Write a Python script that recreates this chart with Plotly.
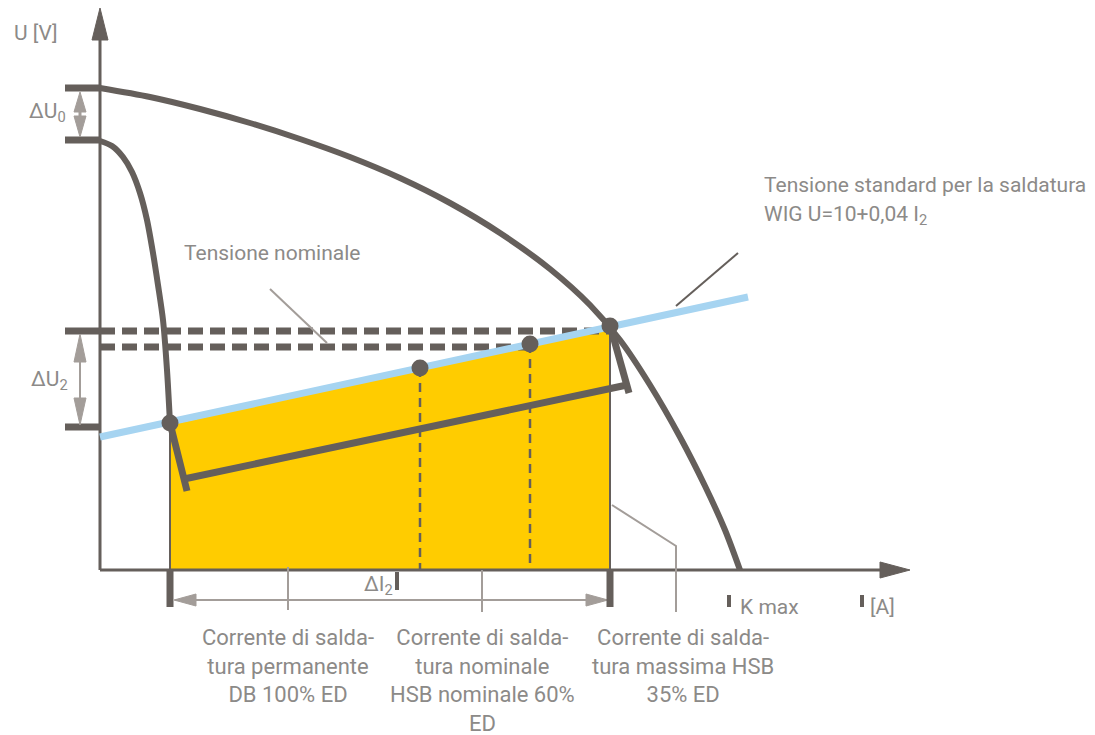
import plotly.graph_objects as go

# diagram coordinates (pixel-like units, y grows downward)
W, H = 1095, 735
PAGE_PAD = 8  # default body margin of the html page

DARK = "#655f5b"
GREY_TXT = "#8c8a88"
GREY_LINE = "#a39d99"
BLUE = "#a6d4f1"
YELLOW = "#ffcc00"
FONT = "Roboto, sans-serif"

# static characteristics
outer_x = [100, 150, 200, 250, 300, 350, 400, 450, 500, 550, 590, 620, 650, 680, 705, 725, 740]
outer_y = [88, 97, 109, 123, 139, 157, 178, 203, 233, 269, 305, 340, 385, 437, 486, 530, 570]
inner_x = [100, 112, 123, 132, 140, 147, 153, 158, 163, 167, 170]
inner_y = [141, 146, 157, 172, 193, 220, 253, 285, 320, 370, 423]

# standard welding voltage U = 10 + 0.04 I2
blue_x = [100, 748]
blue_y = [437, 297]

# working points on the standard line
point_x = [170, 420, 530, 610]
point_y = [423, 368, 344, 326]

# dynamic characteristic (bracket shaped line)
dyn_x = [[170, 187], [184, 627], [629, 610]]
dyn_y = [[423, 491], [479, 385], [393, 325]]

# voltage levels on the U axis
u0_high, u0_low = 88, 140
u2_high, u2_mid, u2_low = 331, 347, 427

fig = go.Figure()


def line(xs, ys, color=DARK, width=2, dash=None, shape="linear"):
    fig.add_trace(go.Scatter(x=xs, y=ys, mode="lines", hoverinfo="skip",
                             line=dict(color=color, width=width, dash=dash, shape=shape,
                                       smoothing=0.8 if shape == "spline" else None)))


def tri(xs, ys, color):
    fig.add_trace(go.Scatter(x=xs + [xs[0]], y=ys + [ys[0]], mode="lines", fill="toself",
                             fillcolor=color, hoverinfo="skip", line=dict(color=color, width=1)))


# yellow working area
fig.add_trace(go.Scatter(
    x=[point_x[0], point_x[3], point_x[3], point_x[0], point_x[0]],
    y=[point_y[0] + 2, point_y[3] + 2, 570, 570, point_y[0] + 2],
    mode="lines", fill="toself", fillcolor=YELLOW, line=dict(width=0), hoverinfo="skip"))

# axes
line([100, 100], [570, 30], width=3)
tri([92, 108, 100], [40, 40, 8], DARK)
line([100, 885], [570, 570], width=3)
tri([880, 880, 910], [562, 578, 570], DARK)

# vertical guides in yellow area
line([point_x[0], point_x[0]], [point_y[0], 570], width=2)
line([point_x[3], point_x[3]], [point_y[3], 570], width=2)
line([point_x[1], point_x[1]], [point_y[1], 570], width=2.5, dash="9px,6px")
line([point_x[2], point_x[2]], [point_y[2], 570], width=2.5, dash="9px,6px")

# voltage level ticks and dashed levels
line([65, 100], [u0_high, u0_high], width=7)
line([65, 100], [u0_low, u0_low], width=7)
line([65, 100], [u2_high, u2_high], width=7)
line([65, 100], [u2_low, u2_low], width=7)
line([100, point_x[3]], [u2_high, u2_high], width=7, dash="15px,7px")
line([100, point_x[2]], [u2_mid, u2_mid], width=7, dash="15px,7px")

# curves
line(outer_x, outer_y, width=6, shape="spline")
line(inner_x, inner_y, width=6, shape="spline")

# blue line
line(blue_x, blue_y, color=BLUE, width=7)

# dynamic characteristic
for xs, ys in zip(dyn_x, dyn_y):
    line(xs, ys, width=7)

# points
fig.add_trace(go.Scatter(x=point_x, y=point_y, mode="markers", hoverinfo="skip",
                         marker=dict(color=DARK, size=17)))

# delta U arrows
line([80, 80], [100, 128], color=GREY_LINE, width=3)
tri([74, 86, 80], [112, 112, 92], GREY_LINE)
tri([74, 86, 80], [116, 116, 137], GREY_LINE)
line([80, 80], [345, 415], color=GREY_LINE, width=2)
tri([74, 86, 80], [362, 362, 334], GREY_LINE)
tri([74, 86, 80], [398, 398, 425], GREY_LINE)

# bottom current range arrow
line([175, 607], [600, 600], color=GREY_LINE, width=2)
tri([196, 196, 174], [594, 606, 600], GREY_LINE)
tri([586, 586, 608], [594, 606, 600], GREY_LINE)
line([288, 288], [567, 610], color=GREY_LINE, width=2)
line([482, 482], [570, 612], color=GREY_LINE, width=2)
line([point_x[0], point_x[0]], [570, 607], width=7)
line([point_x[3], point_x[3]], [570, 607], width=7)
line([397, 397], [572, 590], width=4)
line([729, 729], [595, 607], width=4)
line([862, 862], [595, 607], width=4)

# leader lines
line([270, 327], [289, 343], color=GREY_LINE, width=2)
line([738, 676], [253, 306], color=DARK, width=2)
line([612, 676, 676], [505, 546, 612], color=GREY_LINE, width=2)

labels = [
    (12, 33, "U [V]", "left"),
    (68, 112, "ΔU<sub>0</sub>", "right"),
    (70, 380, "ΔU<sub>2</sub>", "right"),
    (182, 253, "Tensione nominale", "left"),
    (762, 185, "Tensione standard per la saldatura", "left"),
    (762, 215, "WIG U=10+0,04 I<sub>2</sub>", "left"),
    (362, 585, "ΔI<sub>2</sub>", "left"),
    (738, 607, "K max", "left"),
    (868, 607, "[A]", "left"),
]
for x, y, t, al in labels:
    fig.add_annotation(x=x, y=y, text=t, showarrow=False, xanchor=al, yanchor="middle",
                       font=dict(family=FONT, size=21, color=GREY_TXT))

bottom = [
    (288, "Corrente di salda-<br>tura permanente<br>DB 100% ED"),
    (482, "Corrente di salda-<br>tura nominale<br>HSB nominale 60%<br>ED"),
    (683, "Corrente di salda-<br>tura massima HSB<br>35% ED"),
]
for x, t in bottom:
    fig.add_annotation(x=x, y=623, text=t, showarrow=False, xanchor="center", yanchor="top",
                       align="center", font=dict(family=FONT, size=22, color=GREY_TXT))

fig.update_layout(
    width=W - PAGE_PAD, height=H - PAGE_PAD, margin=dict(l=0, r=0, t=0, b=0),
    paper_bgcolor="white", plot_bgcolor="white", showlegend=False,
    xaxis=dict(range=[PAGE_PAD, W], visible=False, fixedrange=True),
    yaxis=dict(range=[H, PAGE_PAD], visible=False, fixedrange=True),
)

fig.write_html("out.html")
